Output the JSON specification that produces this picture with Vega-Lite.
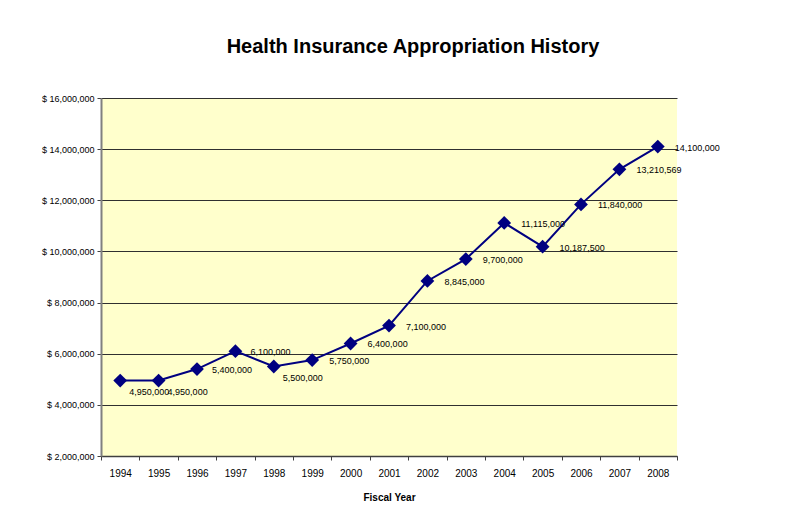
{
  "$schema": "https://vega.github.io/schema/vega-lite/v6.json",
  "width": 576,
  "height": 358,
  "autosize": {"type": "none"},
  "padding": {"left": 101, "top": 98, "right": 129, "bottom": 58},
  "background": "white",
  "title": {
    "text": "Health Insurance Appropriation History",
    "font": "Liberation Sans",
    "fontSize": 20,
    "fontWeight": "bold",
    "color": "black",
    "offset": 37,
    "dx": 24
  },
  "config": {
    "view": {"fill": "#FFFFCC", "stroke": null},
    "font": "Liberation Sans"
  },
  "data": {
    "values": [
      {"year": "1994", "amount": 4950000},
      {"year": "1995", "amount": 4950000},
      {"year": "1996", "amount": 5400000},
      {"year": "1997", "amount": 6100000},
      {"year": "1998", "amount": 5500000},
      {"year": "1999", "amount": 5750000},
      {"year": "2000", "amount": 6400000},
      {"year": "2001", "amount": 7100000},
      {"year": "2002", "amount": 8845000},
      {"year": "2003", "amount": 9700000},
      {"year": "2004", "amount": 11115000},
      {"year": "2005", "amount": 10187500},
      {"year": "2006", "amount": 11840000},
      {"year": "2007", "amount": 13210569},
      {"year": "2008", "amount": 14100000}
    ]
  },
  "encoding": {
    "x": {
      "field": "year",
      "type": "ordinal",
      "scale": {"type": "band", "paddingInner": 0, "paddingOuter": 0},
      "axis": {
        "title": "Fiscal Year",
        "titleFont": "Liberation Sans",
        "titleFontSize": 10,
        "titleFontWeight": "bold",
        "titleColor": "black",
        "titlePadding": 14,
        "labelAngle": 0,
        "labelFontSize": 10,
        "labelColor": "black",
        "labelPadding": 8,
        "tickBand": "extent",
        "tickSize": 4,
        "tickColor": "#404040",
        "domainColor": "#404040",
        "domainWidth": 1.5,
        "grid": false
      }
    },
    "y": {
      "field": "amount",
      "type": "quantitative",
      "scale": {"domain": [2000000, 16000000], "nice": false, "zero": false},
      "axis": {
        "title": null,
        "values": [2000000, 4000000, 6000000, 8000000, 10000000, 12000000, 14000000, 16000000],
        "labelExpr": "'$ ' + format(datum.value, ',')",
        "labelFontSize": 9,
        "labelColor": "black",
        "labelPadding": 3,
        "tickSize": 4,
        "tickColor": "#404040",
        "domainColor": "#808080",
        "domainWidth": 2,
        "grid": true,
        "gridColor": "#303030",
        "gridWidth": 1,
        "gridOpacity": 1
      }
    }
  },
  "layer": [
    {
      "mark": {"type": "line", "color": "#000080", "strokeWidth": 2}
    },
    {
      "mark": {"type": "point", "shape": "diamond", "filled": true, "color": "#000080", "size": 190, "opacity": 1}
    },
    {
      "transform": [{"filter": "indexof(['1994','1995','1998'], datum.year) >= 0"}],
      "mark": {"type": "text", "align": "left", "baseline": "middle", "dx": 9, "dy": 11, "fontSize": 9, "color": "black", "font": "Liberation Sans"},
      "encoding": {
        "text": {"field": "amount", "type": "quantitative", "format": ","}
      }
    },
    {
      "transform": [{"filter": "indexof(['1996','1997'], datum.year) >= 0"}],
      "mark": {"type": "text", "align": "left", "baseline": "middle", "dx": 15, "dy": 1, "fontSize": 9, "color": "black", "font": "Liberation Sans"},
      "encoding": {
        "text": {"field": "amount", "type": "quantitative", "format": ","}
      }
    },
    {
      "transform": [{"filter": "indexof(['1994','1995','1996','1997','1998'], datum.year) < 0"}],
      "mark": {"type": "text", "align": "left", "baseline": "middle", "dx": 17, "dy": 1, "fontSize": 9, "color": "black", "font": "Liberation Sans"},
      "encoding": {
        "text": {"field": "amount", "type": "quantitative", "format": ","}
      }
    }
  ]
}
